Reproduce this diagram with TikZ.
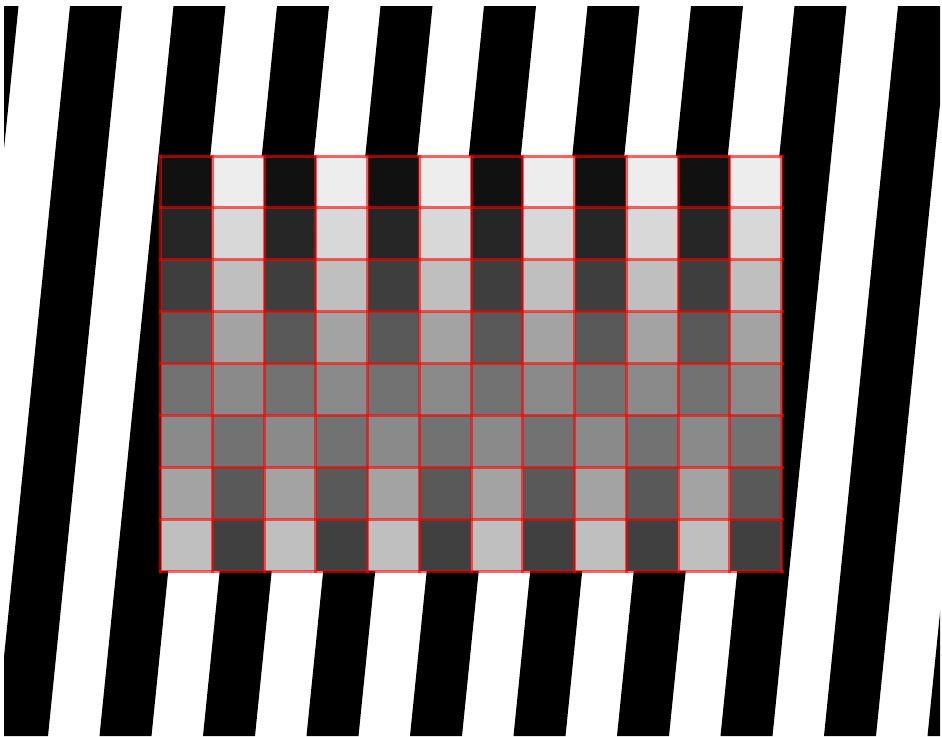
\documentclass[tikz,border=0pt]{standalone}
\tikzset{
  stripe/.style={fill=black},
  cellline/.style={draw=red, draw opacity=0.6, line width=3pt}
}
\begin{document}
\begin{tikzpicture}[x=1pt,y=-1pt]
  \fill[white] (0,0) rectangle (942,736);
  \useasboundingbox (0,0) rectangle (942,736);
  % slanted stripes
  \begin{scope}
    \clip (4,6) rectangle (940,736);
    \foreach \k in {-1,...,9}{
      \pgfmathsetmacro{\L}{70+103.5*\k}
      \fill[stripe] (\L,6) -- (\L+52,6) -- (\L+52-74,736) -- (\L-74,736) -- cycle;
    }
  \end{scope}
  % grid cells
  \foreach \j/\dk/\lt in {0/17/237,1/38/216,2/62/191,3/89/163,4/114/138,5/138/114,6/163/89,7/191/64}{
    \foreach \i in {0,...,11}{
      \pgfmathtruncatemacro{\myparity}{mod(\i,2)}
      \ifnum\myparity=0
        \definecolor{cellc}{RGB}{\dk,\dk,\dk}
      \else
        \definecolor{cellc}{RGB}{\lt,\lt,\lt}
      \fi
      \fill[cellc] (160.5+51.75*\i,156+51.875*\j) rectangle ++(51.75,51.875);
    }
  }
  % grid lines, each drawn once
  \foreach \j in {0,...,8}{
    \draw[cellline] (159,156+51.875*\j) -- (783.5,156+51.875*\j);
  }
  \foreach \i in {0,...,12}{
    \draw[cellline] (160.5+51.75*\i,154.5) -- (160.5+51.75*\i,572.5);
  }
\end{tikzpicture}
\end{document}
